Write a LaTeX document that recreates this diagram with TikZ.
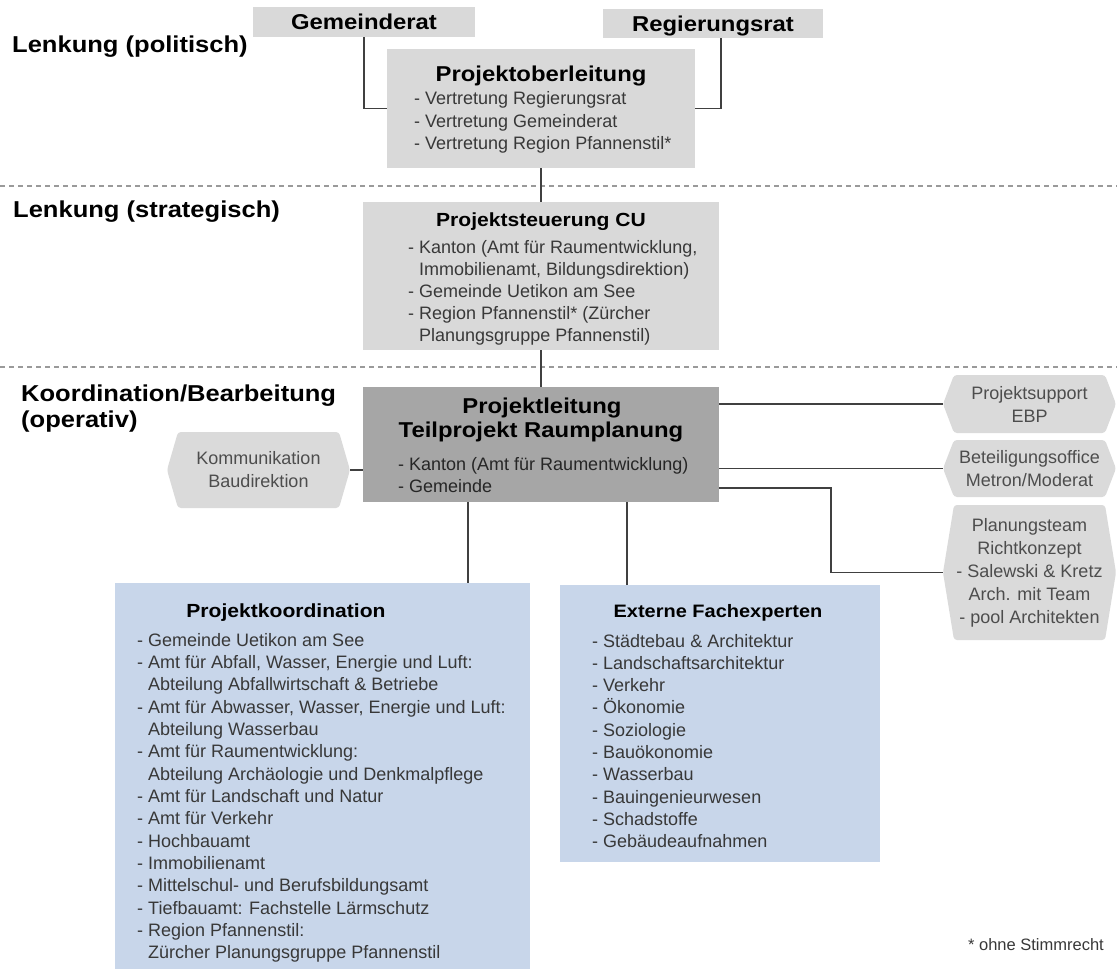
\documentclass[tikz,border=0pt]{standalone}
\usepackage{fontspec}
\setmainfont{Liberation Sans}
\newfontfamily\tfont[FakeStretch=1.11]{Liberation Sans}
\usetikzlibrary{calc}
\pgfdeclarelayer{background}
\pgfsetlayers{background,main}
\definecolor{boxgray}{HTML}{D9D9D9}
\definecolor{darkbox}{HTML}{A6A6A6}
\definecolor{bluebox}{HTML}{C8D6EA}
\definecolor{hexgray}{HTML}{DADADA}
\definecolor{linec}{HTML}{404040}
\definecolor{dashc}{HTML}{9A9A9A}
\definecolor{txtc}{HTML}{383838}
\definecolor{hextxt}{HTML}{4D4D4D}
\begin{document}
\begin{tikzpicture}[x=1pt,y=-1pt,
  box/.style={fill=#1,inner sep=0pt,outer sep=0pt},
  hexbox/.style={inner sep=0pt,outer sep=0pt,align=center,text=hextxt,
    font=\fontsize{18}{23}\selectfont},
  hexfill/.style={fill=hexgray,rounded corners=3pt},
  titlebig/.style={font=\tfont\bfseries\fontsize{21.5}{26}\selectfont,inner sep=0pt,anchor=base},
  titlemid/.style={font=\tfont\bfseries\fontsize{19}{23}\selectfont,inner sep=0pt,anchor=base},
  titlesmall/.style={font=\tfont\bfseries\fontsize{18}{22}\selectfont,inner sep=0pt,anchor=base},
  levellabel/.style={font=\tfont\bfseries\fontsize{23}{27}\selectfont,inner sep=0pt,anchor=base west},
  body/.style={font=\fontsize{18}{22}\selectfont,text=txtc,inner sep=0pt,anchor=base west},
  conn/.style={draw=linec,line width=1.4pt},
  dashline/.style={draw=dashc,line width=1.2pt,dash pattern=on 5pt off 4pt}
]
\useasboundingbox (0,0) rectangle (1117,969);

% level separators
\draw[dashline] (0,186) -- (1117,186);
\draw[dashline] (0,367) -- (1117,367);

% level labels
\node[levellabel] (l1) at (12,52) {Lenkung (politisch)};
\node[levellabel] (l2) at (13,217) {Lenkung (strategisch)};
\node[levellabel] (l3) at (21,401) {Koordination/Bearbeitung};
\node[levellabel] (l4) at (21,427) {(operativ)};

% boxes
\node[box=boxgray,minimum width=222pt,minimum height=30pt] (gem) at (364,22) {};
\node[titlebig] (gemt) at (364,29.5) {Gemeinderat};
\node[box=boxgray,minimum width=220pt,minimum height=29pt] (reg) at (713,23.5) {};
\node[titlebig] (regt) at (713,31) {Regierungsrat};

\node[box=boxgray,minimum width=308pt,minimum height=119pt] (pol) at (541,108.5) {};
\node[titlebig] (polt) at (541,81) {Projektoberleitung};
\foreach \t [count=\i from 0] in {{- Vertretung Regierungsrat},{- Vertretung Gemeinderat},{- Vertretung Region Pfannenstil*}}
  \node[body,name=polb\i] at (414,104.5+22.5*\i) {\t};

\node[box=boxgray,minimum width=356pt,minimum height=148pt] (str) at (541,276) {};
\node[titlemid] (strt) at (541,226) {Projektsteuerung CU};
\foreach \t [count=\i from 0] in {{- Kanton (Amt für Raumentwicklung,},{\hphantom{- }Immobilienamt, Bildungsdirektion)},{- Gemeinde Uetikon am See},{- Region Pfannenstil* (Zürcher},{\hphantom{- }Planungsgruppe Pfannenstil)}}
  \node[body,name=strb\i] at (408,253+22*\i) {\t};

\node[box=darkbox,minimum width=356pt,minimum height=115pt] (pl) at (541,444.5) {};
\node[titlebig] (plt1) at (542,413) {Projektleitung};
\node[titlebig] (plt2) at (541,437) {Teilprojekt Raumplanung};
\node[body,text=black!85] (plb1) at (398,470) {- Kanton (Amt für Raumentwicklung)};
\node[body,text=black!85] (plb2) at (398,492) {- Gemeinde};

\node[box=bluebox,minimum width=415pt,minimum height=386pt] (pk) at (322.5,776) {};
\node[titlemid] (pkt) at (286,617) {Projektkoordination};
\foreach \t [count=\i from 0] in {{- Gemeinde Uetikon am See},{- Amt für Abfall, Wasser, Energie und Luft:},{\hphantom{- }Abteilung Abfallwirtschaft \& Betriebe},{- Amt für Abwasser, Wasser, Energie und Luft:},{\hphantom{- }Abteilung Wasserbau},{- Amt für Raumentwicklung:},{\hphantom{- }Abteilung Archäologie und Denkmalpflege},{- Amt für Landschaft und Natur},{- Amt für Verkehr},{- Hochbauamt},{- Immobilienamt},{- Mittelschul- und Berufsbildungsamt},{- Tiefbauamt: Fachstelle Lärmschutz},{- Region Pfannenstil:},{\hphantom{- }Zürcher Planungsgruppe Pfannenstil}}
  \node[body,name=pkb\i] at (137,646+22.35*\i) {\t};

\node[box=bluebox,minimum width=320pt,minimum height=277pt] (ext) at (720,723.5) {};
\node[titlesmall] (extt) at (718,617) {Externe Fachexperten};
\foreach \t [count=\i from 0] in {{- Städtebau \& Architektur},{- Landschaftsarchitektur},{- Verkehr},{- Ökonomie},{- Soziologie},{- Bauökonomie},{- Wasserbau},{- Bauingenieurwesen},{- Schadstoffe},{- Gebäudeaufnahmen}}
  \node[body,name=extb\i] at (592,647+22.3*\i) {\t};

% hexagon boxes
\node[hexbox,minimum width=183pt,minimum height=76pt] (kom) at (258.5,470) {Kommunikation\\Baudirektion};
\node[hexbox,minimum width=173pt,minimum height=58pt] (sup) at (1029.5,404) {Projektsupport\\EBP};
\node[hexbox,minimum width=173pt,minimum height=57pt] (bet) at (1029.5,468.5) {Beteiligungsoffice\\Metron/Moderat};
\node[hexbox,minimum width=173pt,minimum height=135pt] (plan) at (1029.5,572.5) {Planungsteam\\Richtkonzept\\- Salewski \& Kretz\\Arch. mit Team\\- pool Architekten};
\begin{pgfonlayer}{background}
\foreach \n in {kom,sup,bet,plan}
  \fill[hexfill] ($(\n.north west)+(11,0)$) -- ($(\n.north east)+(-11,0)$) -- (\n.east)
    -- ($(\n.south east)+(-11,0)$) -- ($(\n.south west)+(11,0)$) -- (\n.west) -- cycle;
\end{pgfonlayer}

% connectors
\draw[conn] (gem.south) |- (pol.west);
\draw[conn] ([xshift=8pt]reg.south) |- (pol.east);
\draw[conn] (pol.south) -- (str.north);
\draw[conn] (str.south) -- (pl.north);
\draw[conn] (kom.east) -- (kom.east -| pl.west);
\draw[conn] (sup.west -| pl.east) -- (sup.west);
\draw[conn] (bet.west -| pl.east) -- (bet.west);
\path ($(pl.south east)+(0,-14)$) coordinate (p3);
\draw[conn] (p3) -- ++(112,0) |- (plan.west);
\path ($(pl.south west)+(105,0)$) coordinate (d1);
\draw[conn] (d1) -- (d1 |- pk.north);
\path ($(pl.south west)+(264,0)$) coordinate (d2);
\draw[conn] (d2) -- (d2 |- ext.north);

% footnote
\node[font=\fontsize{16.5}{20}\selectfont,text=txtc,inner sep=0pt,anchor=base east] (fn) at (1104,950) {* ohne Stimmrecht};
\end{tikzpicture}
\end{document}
